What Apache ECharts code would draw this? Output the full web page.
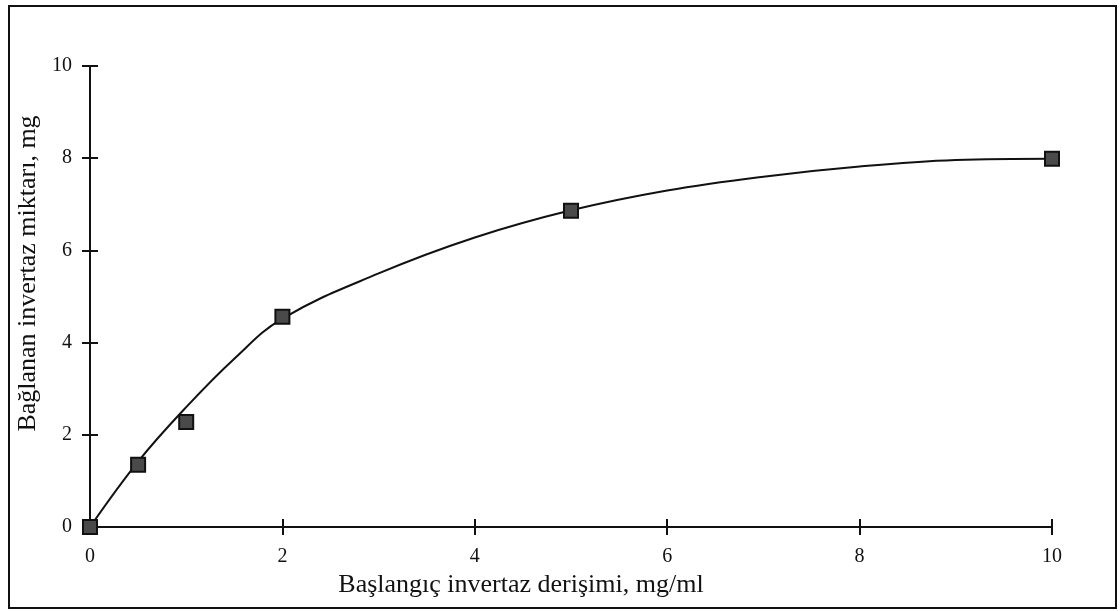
<!DOCTYPE html>
<html>
<head>
<meta charset="utf-8">
<script src="https://cdn.jsdelivr.net/npm/echarts@6/dist/echarts.min.js"></script>
<style>
html,body{margin:0;padding:0;background:#fff;}
#c{width:1120px;height:611px;}
</style>
</head>
<body>
<div id="c"></div>
<script>
// measured points (squares)
const xValues = [0, 0.5, 1, 2, 5, 10];
const yValues = [0, 1.35, 2.28, 4.56, 6.86, 7.99];
// fitted curve as drawn in the picture, read at several x positions
const trendX = [0, 0.5, 1, 1.5, 2, 3, 4, 5, 6, 7, 8, 9, 10];
const trendY = [0, 1.42, 2.6, 3.65, 4.52, 5.5, 6.28, 6.87, 7.3, 7.6, 7.82, 7.96, 7.99];
const xTicks = [0, 2, 4, 6, 8, 10];
const yTicks = [0, 2, 4, 6, 8, 10];
const xName = 'Başlangıç invertaz derişimi, mg/ml';
const yName = 'Bağlanan invertaz miktarı, mg';

const pts = xValues.map((x, i) => [x, yValues[i]]);
const trend = trendX.map((x, i) => [x, trendY[i]]);
const font = '"Liberation Serif", "DejaVu Serif", serif';
const ink = '#111';

const baseX = {type: 'value', min: 0, max: 10, interval: 2, gridIndex: 0, splitLine: {show: false}};
const baseY = {type: 'value', min: 0, max: 10, interval: 2, gridIndex: 0, splitLine: {show: false}};

const chart = echarts.init(document.getElementById('c'), null, {renderer: 'canvas'});
chart.setOption({
  animation: false,
  backgroundColor: '#fff',
  grid: {left: 90, right: 68, top: 66, bottom: 84},
  graphic: [{
    type: 'rect', shape: {x: 9, y: 6, width: 1107, height: 602},
    style: {fill: 'none', stroke: ink, lineWidth: 2}, z: -1
  }],
  xAxis: [
    Object.assign({}, baseX, {
      position: 'bottom',
      name: xName, nameLocation: 'middle', nameGap: 36,
      nameTextStyle: {fontFamily: font, fontSize: 26, color: ink, padding: [0, 100, 0, 0]},
      axisLine: {lineStyle: {color: ink, width: 2}},
      axisTick: {show: true, inside: false, length: 8, lineStyle: {color: ink, width: 2}},
      axisLabel: {fontFamily: font, fontSize: 20, color: ink, margin: 20,
        formatter: v => xTicks.includes(v) ? String(v) : ''}
    }),
    Object.assign({}, baseX, {
      position: 'bottom',
      axisLine: {show: false},
      axisTick: {show: true, inside: true, length: 8, lineStyle: {color: ink, width: 2}},
      axisLabel: {show: false}
    })
  ],
  yAxis: [
    Object.assign({}, baseY, {
      position: 'left',
      name: yName, nameLocation: 'middle', nameGap: 42,
      nameTextStyle: {fontFamily: font, fontSize: 26, color: ink, padding: [0, 0, 0, 46]},
      axisLine: {show: true, lineStyle: {color: ink, width: 2}},
      axisTick: {show: true, length: 8, lineStyle: {color: ink, width: 2}},
      axisLabel: {fontFamily: font, fontSize: 20, color: ink, margin: 18,
        formatter: v => yTicks.includes(v) ? String(v) : ''}
    }),
    Object.assign({}, baseY, {
      position: 'left',
      axisLine: {show: false},
      axisTick: {show: true, inside: true, length: 8, lineStyle: {color: ink, width: 2}},
      axisLabel: {show: false}
    })
  ],
  series: [
    {
      type: 'line', data: trend, smooth: 0.4, showSymbol: false,
      lineStyle: {color: ink, width: 2}, z: 2
    },
    {
      type: 'line', data: pts, symbol: 'rect', symbolSize: 14,
      lineStyle: {opacity: 0},
      itemStyle: {color: '#4a4a4a', borderColor: ink, borderWidth: 2}, z: 3
    }
  ]
});
</script>
</body>
</html>
